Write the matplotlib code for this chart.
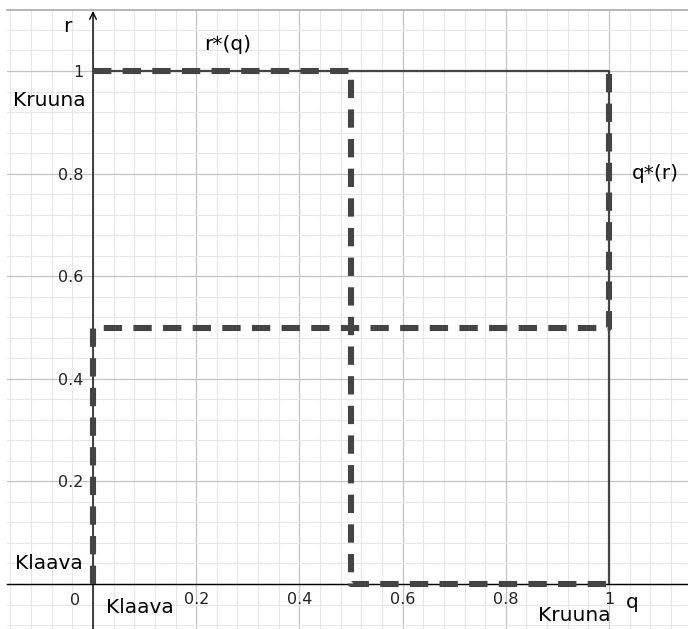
import matplotlib
matplotlib.use("Agg")
import matplotlib.pyplot as plt
from matplotlib.ticker import MultipleLocator, FuncFormatter

# ---- data ----
solid_q = [0, 1, 1]
solid_r = [1, 1, 0]
rstar_q = [0, 0.5, 0.5, 1]          # r*(q)
rstar_r = [1, 1, 0, 0]
qstar_q = [0, 0, 1, 1]              # q*(r)
qstar_r = [0, 0.5, 0.5, 1]
tick_vals = [0.2, 0.4, 0.6, 0.8, 1.0]

plt.rcParams['font.family'] = ['DejaVu Sans']

W, H = 688, 629
fig = plt.figure(figsize=(W / 100, H / 100), dpi=100)
ax = fig.add_axes([7 / W, 0, (W - 7) / W, (H - 10) / H])

x0p, x1p = 93, 609
y0p, y1p = 584, 71
sx = x1p - x0p
sy = y0p - y1p
ax.set_xlim((7 - x0p) / sx, (W - x0p) / sx)
ax.set_ylim(-(H - y0p) / sy, (y0p - 10) / sy)

# grid
for axis in (ax.xaxis, ax.yaxis):
    axis.set_major_locator(MultipleLocator(0.2))
    axis.set_minor_locator(MultipleLocator(0.04))
ax.grid(which='major', color='#c4c4c4', lw=0.9, zorder=0)
ax.grid(which='minor', color='#e6e6e6', lw=0.8, zorder=0)
ax.set_axisbelow(True)

def fmt(v, pos):
    if abs(v) < 1e-9 or v > 1.0001 or v < 0:
        return ''
    if abs(v - 1) < 1e-9:
        return '1'
    return f'{v:.1f}'

ax.xaxis.set_major_formatter(FuncFormatter(fmt))
ax.yaxis.set_major_formatter(FuncFormatter(fmt))
ax.tick_params(which='both', length=0, labelsize=11.5, colors='#222222')
ax.tick_params(axis='x', pad=6)
ax.tick_params(axis='y', pad=7)

ax.spines['left'].set_position(('data', 0))
ax.spines['bottom'].set_position(('data', 0))
ax.spines['right'].set_visible(False)
ax.spines['top'].set_color('#aaaaaa')
ax.spines['top'].set_linewidth(1.2)
ax.spines['left'].set_visible(False)
ax.spines['bottom'].set_color('black')
ax.spines['bottom'].set_linewidth(1.0)

# y axis with arrow
ymin, ymax = ax.get_ylim()
ax.annotate('', xy=(0, ymax - 0.002), xytext=(0, ymin),
            arrowprops=dict(arrowstyle='->', lw=1.0, color='black',
                            mutation_scale=12, shrinkA=0, shrinkB=0),
            zorder=3)

col = '#444444'
ax.plot(solid_q, solid_r, color=col, lw=1.6, zorder=4, solid_capstyle='butt')
ax.plot(rstar_q, rstar_r, color=col, lw=4.4, ls=(0, (3.0, 1.85)),
        dash_capstyle='butt', zorder=5)
ax.plot(qstar_q, qstar_r, color=col, lw=4.4, ls=(0, (3.0, 1.85)),
        dash_capstyle='butt', zorder=5)

fs = 14.5
ax.text(-0.025, -0.032, '0', fontsize=11.5, ha='right', va='center', color='#222222')
ax.text(-0.05, 1.087, 'r', fontsize=fs, ha='center', va='center')
ax.text(1.045, -0.037, 'q', fontsize=fs, ha='center', va='center')
ax.text(0.26, 1.052, 'r*(q)', fontsize=fs, ha='center', va='center')
ax.text(1.089, 0.8, 'q*(r)', fontsize=fs, ha='center', va='center')
ax.text(-0.084, 0.943, 'Kruuna', fontsize=fs, ha='center', va='center')
ax.text(-0.086, 0.04, 'Klaava', fontsize=fs, ha='center', va='center')
ax.text(0.091, -0.045, 'Klaava', fontsize=fs, ha='center', va='center')
ax.text(0.932, -0.062, 'Kruuna', fontsize=fs, ha='center', va='center')

fig.savefig('out.png', dpi=100)
